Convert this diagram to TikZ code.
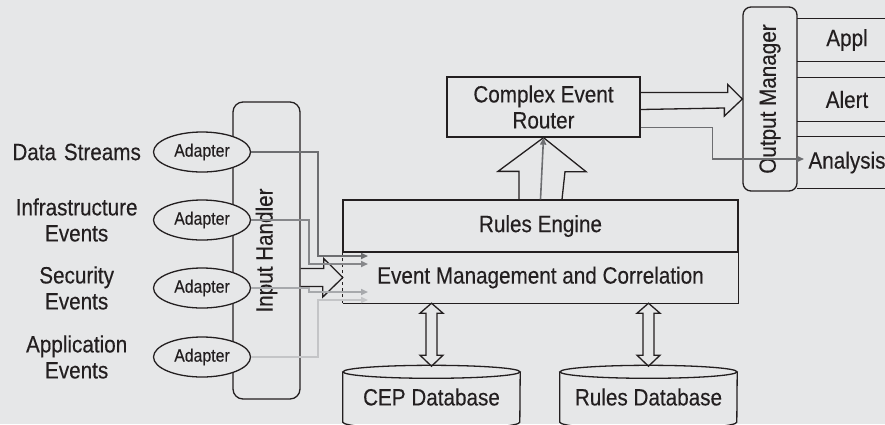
\documentclass[tikz,border=0pt]{standalone}
\usepackage{fontspec}
\setmainfont[FakeStretch=0.88,FakeBold=0.3]{Liberation Sans}
\usepackage{xcolor}
\usepackage{tikz}
\usetikzlibrary{positioning,calc,shapes.geometric,arrows.meta}

\definecolor{bggray}{HTML}{E6E7E8}
\definecolor{ink}{HTML}{231F20}
\definecolor{lineA}{HTML}{6D6E71}
\definecolor{lineB}{HTML}{86878A}
\definecolor{lineC}{HTML}{A7A9AC}
\definecolor{lineD}{HTML}{C4C5C7}

\tikzset{
  box/.style={draw=ink, line width=1.3pt, inner sep=0pt, text=ink},
  bignode/.style={font=\fontsize{23.5}{26}\selectfont},
  adapter/.style={ellipse, draw=ink, fill=bggray, line width=1.3pt, inner sep=0pt,
    minimum width=97pt, minimum height=40pt, text=ink, font=\fontsize{18}{20}\selectfont},
  srclabel/.style={text width=130pt, align=center, inner sep=0pt, text=ink, font=\fontsize{23.5}{26}\selectfont},
  hollow/.style={draw=ink, line width=1.3pt, line join=miter},
  feed/.style={line width=1.6pt, -{Triangle[length=7pt,width=6pt]}},
}

\begin{document}
\begin{tikzpicture}[x=1pt,y=-1pt]
\fill[bggray] (0,0) rectangle (885,424);
\useasboundingbox (0,0) rectangle (885,424);
\clip (0,0) rectangle (885,424);

% input side
\node[box, bignode, rounded corners=10pt, rotate=90, minimum width=297pt, minimum height=67pt] (ih) at (266.5,250.5) {Input Handler};
\node[adapter] (ad1) at (202,152) {Adapter};
\node[adapter] (ad2) at (202,220) {Adapter};
\node[adapter] (ad3) at (202,288) {Adapter};
\node[adapter] (ad4) at (202,357) {Adapter};
\node[srclabel, left=11pt of ad1] (src1) {Data Streams};
\node[srclabel, left=11pt of ad2] (src2) {Infrastructure\\Events};
\node[srclabel, left=11pt of ad3] (src3) {Security\\Events};
\node[srclabel, left=11pt of ad4] (src4) {Application\\Events};

% engine
\node[box, bignode, minimum width=395pt, minimum height=52pt] (rules) at (540.5,226) {Rules Engine};
\node[bignode, text=ink, inner sep=0pt, minimum width=395pt, minimum height=51pt] (evt) at (540.5,277.5) {Event Management and Correlation};
\draw[ink, line width=1.3pt] (evt.north east) -- (evt.south east) -- (evt.south west);
\draw[ink, line width=1.3pt, dashed] (evt.south west) -- (evt.north west);

\node[box, bignode, align=center, minimum width=193pt, minimum height=60pt] (router) at (543.5,107) {Complex Event\\Router};

% output side
\node[box, bignode, rounded corners=8pt, rotate=90, minimum width=184pt, minimum height=54pt] (om) at (770,99) {Output Manager};
\node[bignode, text=ink, inner sep=0pt, minimum width=100pt, minimum height=42pt] (appl) at (847,40) {Appl};
\node[bignode, text=ink, inner sep=0pt, minimum width=100pt, minimum height=43pt] (alert) at (847,99.5) {Alert};
\node[bignode, text=ink, inner sep=0pt, minimum width=100pt, minimum height=51pt] (anl) at (847,162.5) {\raisebox{3pt}{Analysis}};
\foreach \o in {appl,alert,anl}
  \draw[ink, line width=1.3pt] (\o.north west) -- (\o.north east) (\o.south west) -- (\o.south east);

% databases
\node[bignode, text=ink, inner sep=0pt, minimum width=177pt, minimum height=50pt] (cepdb) at (431.5,397) {CEP Database};
\node[bignode, text=ink, inner sep=0pt, minimum width=177pt, minimum height=50pt] (rulesdb) at (648.5,397) {Rules Database};
\foreach \db in {cepdb,rulesdb} {
  \draw[ink, line width=1.3pt] (\db.north) ellipse [x radius=88.5pt, y radius=6.5pt];
  \draw[ink, line width=1.3pt] (\db.north west) -- (\db.south west)
    arc[start angle=180, end angle=360, x radius=88.5pt, y radius=7pt] -- (\db.north east);
}

% hollow arrows
\draw[hollow] ($(ih.south |- evt.west)+(0,-9)$) -- ++(23,0) -- ++(0,-10) -- (evt.west)
  -- ++(-20,19.5) -- ++(0,-10.5) -- ($(ih.south |- evt.west)+(0,9)$);
\draw[hollow] ($(rules.north)+(-21.5,0)$) -- ++(0,-28) -- ++(-21,0) -- (router.south)
  -- ++(42.5,34) -- ++(-21,0) -- ($(rules.north)+(21.5,0)$);
\draw[hollow] ($(router.east |- om.north)+(0,-6.5)$) -- ++(87,0) -- ++(0,-8) -- (om.north)
  -- ++(-18,17) -- ++(0,-8) -- ($(router.east |- om.north)+(0,10.5)$);
\foreach \db in {cepdb,rulesdb}
  \draw[hollow] (evt.south -| \db.north) -- ++(11.5,10) -- ++(-6,0) -- ++(0,42)
    -- ++(6,0) -- ++(-11.5,11) -- ++(-11.5,-11) -- ++(6,0) -- ++(0,-42) -- ++(-6,0) -- cycle;

% feeds
\coordinate (in1) at (368,256);
\coordinate (in2) at (368,264);
\coordinate (in3) at (368,292);
\coordinate (in4) at (368,300);
\draw[feed, lineA] (ad1.east) -- ++(67,0) |- (in1);
\draw[feed, lineB] (ad2.east) -- ++(58,0) |- (in2);
\draw[feed, lineC] (ad3.east) -- ++(58,0) |- (in3);
\draw[feed, lineD] (ad4.east) -- ++(67,0) |- (in4);
\draw[feed, lineA] (rules.north) -- (router.south);
\coordinate (anltip) at (804,159);
\draw[feed, lineA] ($(router.south east)+(0,-10)$) -- ++(72,0) |- (anltip);
\end{tikzpicture}
\end{document}
